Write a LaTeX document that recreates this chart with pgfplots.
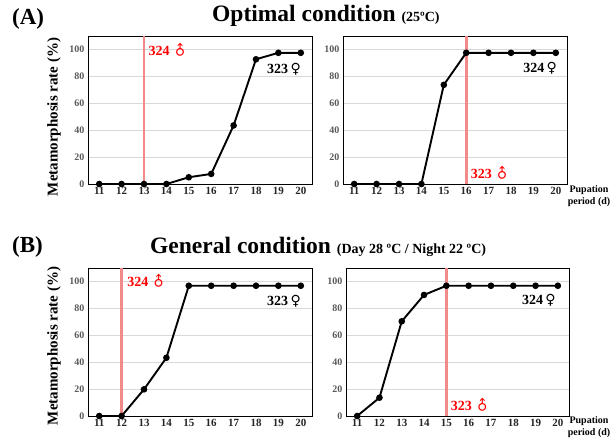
\documentclass[border=0pt]{standalone}
\usepackage{fontspec}
\setmainfont{Liberation Serif}
\newfontfamily\symfont{DejaVu Sans}
\usepackage{graphicx}
\usepackage{pgfplots}
\pgfplotsset{compat=1.18}
\definecolor{redline}{HTML}{F38A8A}
\definecolor{redtxt}{HTML}{FF0000}
\newcommand{\male}{\rotatebox[origin=c]{45}{\symfont\mdseries ♂}}
\newcommand{\female}{{\symfont\mdseries ♀}}

\pgfplotsset{
  panel/.style={
    scale only axis, width=224pt, height=148pt,
    anchor=south west,
    xmin=10.5, xmax=20.5, ymin=0, ymax=110,
    xtick={11,...,20}, ytick={0,20,...,100},
    ymajorgrids, grid style={gray!30, line width=0.8pt},
    major tick length=0pt,
    axis line style={line width=0.9pt},
    xticklabel style={font=\bfseries\fontsize{11}{12}\selectfont, color=black!85},
    yticklabel style={font=\bfseries\fontsize{10}{12}\selectfont, color=black!65},
    /pgf/number format/assume math mode=true,
    clip=false,
  },
  rate/.style={black, line width=1.9pt, mark=*, mark size=2.3pt},
  split/.style={redline, line width=2.8pt},
}
\tikzset{lab/.style={font=\bfseries\fontsize{14}{16}\selectfont, inner sep=1pt}}

\begin{document}
\begin{tikzpicture}
\path[use as bounding box] (0pt,0pt) rectangle (615pt,437pt);

% titles
\node[anchor=west, inner sep=0pt, font=\bfseries\fontsize{23}{26}\selectfont] at (12pt,418pt) {(A)};
\node[anchor=base west, inner sep=0pt, font=\bfseries\fontsize{23.5}{26}\selectfont] at (212pt,415pt)
  {Optimal condition {\fontsize{14}{16}\selectfont(25ºC)}};
\node[anchor=west, inner sep=0pt, font=\bfseries\fontsize{23}{26}\selectfont] at (12pt,190pt) {(B)};
\node[anchor=base west, inner sep=0pt, font=\bfseries\fontsize{23.5}{26}\selectfont] at (150pt,184pt)
  {General condition {\fontsize{14}{16}\selectfont(Day 28 ºC / Night 22 ºC)}};

% y labels
\node[rotate=90, font=\bfseries\fontsize{15}{17}\selectfont] at (54pt,320pt) {Metamorphosis rate (\%)};
\node[rotate=90, font=\bfseries\fontsize{15}{17}\selectfont] at (54pt,91pt) {Metamorphosis rate (\%)};

% x labels
\node[align=center, font=\bfseries\fontsize{10}{12}\selectfont] at (589pt,241pt) {Pupation\\period (d)};
\node[align=center, font=\bfseries\fontsize{10}{12}\selectfont] at (589pt,10pt) {Pupation\\period (d)};

% (A) left
\begin{axis}[panel, at={(88pt,253pt)}]
\addplot[split] coordinates {(13,0) (13,110)};
\addplot[rate] coordinates {
  (11,0) (12,0) (13,0) (14,0) (15,5) (16,7.5) (17,43.5) (18,92.7) (19,97.5) (20,97.5)};
\node[lab, redtxt, anchor=west] at (axis cs:13.15,99.5) {324\,\male};
\node[lab, anchor=center] at (axis cs:19.25,85.5) {323\,\female};
\end{axis}

% (A) right
\begin{axis}[panel, at={(343pt,253pt)}]
\addplot[split] coordinates {(16,0) (16,110)};
\addplot[rate] coordinates {
  (11,0) (12,0) (13,0) (14,0) (15,73.7) (16,97.5) (17,97.5) (18,97.5) (19,97.5) (20,97.5)};
\node[lab, redtxt, anchor=west] at (axis cs:16.15,8) {323\,\male};
\node[lab, anchor=center] at (axis cs:19.3,86) {324\,\female};
\end{axis}

% (B) left
\begin{axis}[panel, at={(88pt,21pt)}]
\addplot[split] coordinates {(12,0) (12,110)};
\addplot[rate] coordinates {
  (11,0) (12,0) (13,19.8) (14,43.3) (15,96.8) (16,96.8) (17,96.8) (18,96.8) (19,96.8) (20,96.8)};
\node[lab, redtxt, anchor=west] at (axis cs:12.2,100) {324\,\male};
\node[lab, anchor=center] at (axis cs:19.25,85) {323\,\female};
\end{axis}

% (B) right
\begin{axis}[panel, at={(346pt,21pt)}, width=223pt]
\addplot[split] coordinates {(15,0) (15,110)};
\addplot[rate] coordinates {
  (11,0) (12,13.6) (13,70.4) (14,90) (15,96.8) (16,96.8) (17,96.8) (18,96.8) (19,96.8) (20,96.8)};
\node[lab, redtxt, anchor=west] at (axis cs:15.15,7.5) {323\,\male};
\node[lab, anchor=center] at (axis cs:19.15,86) {324\,\female};
\end{axis}
\end{tikzpicture}
\end{document}
